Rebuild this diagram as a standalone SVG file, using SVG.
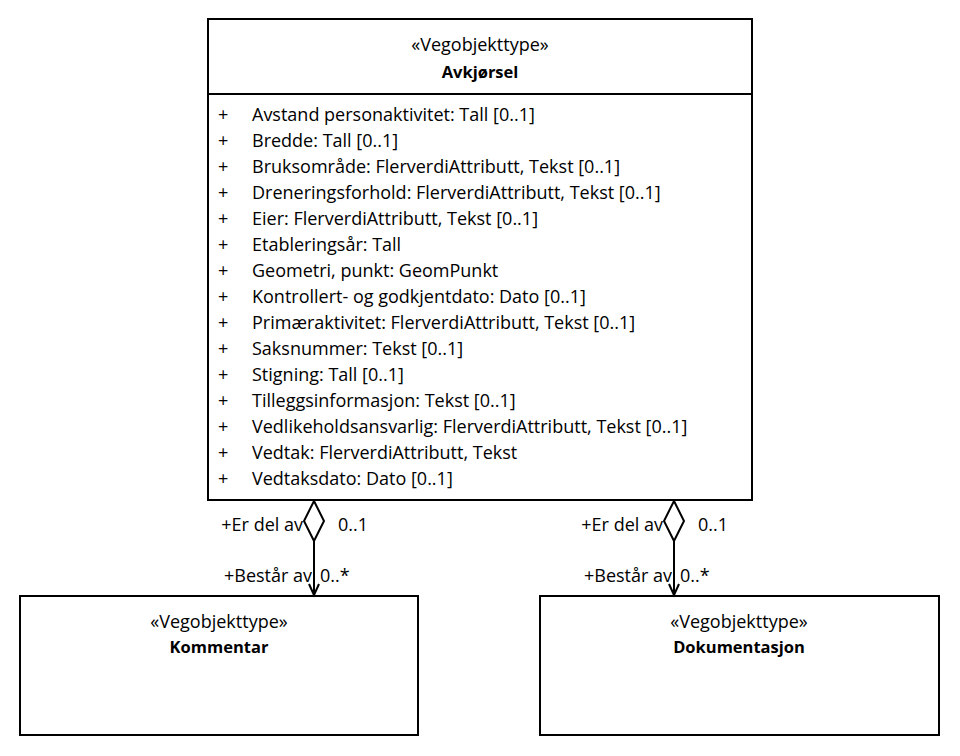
<svg xmlns="http://www.w3.org/2000/svg" width="960" height="756" viewBox="0 0 960 756">
<style>
text{font-family:"Open Sans","Liberation Sans",sans-serif;font-size:18px;fill:#000}
.b{font-weight:bold;font-size:16.5px}
.c{text-anchor:middle}
.box{fill:#fff;stroke:#000;stroke-width:2}
.ln{fill:none;stroke:#000;stroke-width:2}
</style>
<rect width="960" height="756" fill="#fff"/>
<g id="avkjorsel">
<rect class="box" x="208" y="19" width="544" height="481"/>
<line class="ln" x1="208" y1="94" x2="752" y2="94"/>
<text class="c" x="480" y="51">«Vegobjekttype»</text>
<text class="c b" x="480" y="78">Avkjørsel</text>
<g>
<text x="218" y="121">+</text><text x="252" y="121">Avstand personaktivitet: Tall [0..1]</text>
<text x="218" y="147">+</text><text x="252" y="147">Bredde: Tall [0..1]</text>
<text x="218" y="173">+</text><text x="252" y="173">Bruksområde: FlerverdiAttributt, Tekst [0..1]</text>
<text x="218" y="199">+</text><text x="252" y="199">Dreneringsforhold: FlerverdiAttributt, Tekst [0..1]</text>
<text x="218" y="225">+</text><text x="252" y="225">Eier: FlerverdiAttributt, Tekst [0..1]</text>
<text x="218" y="251">+</text><text x="252" y="251">Etableringsår: Tall</text>
<text x="218" y="277">+</text><text x="252" y="277">Geometri, punkt: GeomPunkt</text>
<text x="218" y="303">+</text><text x="252" y="303">Kontrollert- og godkjentdato: Dato [0..1]</text>
<text x="218" y="329">+</text><text x="252" y="329">Primæraktivitet: FlerverdiAttributt, Tekst [0..1]</text>
<text x="218" y="355">+</text><text x="252" y="355">Saksnummer: Tekst [0..1]</text>
<text x="218" y="381">+</text><text x="252" y="381">Stigning: Tall [0..1]</text>
<text x="218" y="407">+</text><text x="252" y="407">Tilleggsinformasjon: Tekst [0..1]</text>
<text x="218" y="433">+</text><text x="252" y="433">Vedlikeholdsansvarlig: FlerverdiAttributt, Tekst [0..1]</text>
<text x="218" y="459">+</text><text x="252" y="459">Vedtak: FlerverdiAttributt, Tekst</text>
<text x="218" y="485">+</text><text x="252" y="485">Vedtaksdato: Dato [0..1]</text>
</g>
</g>
<g id="kommentar">
<rect class="box" x="20" y="596" width="398" height="139"/>
<text class="c" x="219" y="628">«Vegobjekttype»</text>
<text class="c b" x="219" y="653">Kommentar</text>
</g>
<g id="dokumentasjon">
<rect class="box" x="540" y="596" width="399" height="139"/>
<text class="c" x="739" y="628">«Vegobjekttype»</text>
<text class="c b" x="739" y="653">Dokumentasjon</text>
</g>
<g id="connectors">
<polygon class="ln" points="314,501 324,521 314,541 304,521"/>
<line class="ln" x1="314" y1="541" x2="314" y2="595"/>
<polyline class="ln" points="309,584 314,595 319,584"/>
<text x="303" y="531" text-anchor="end">+Er del av</text>
<text x="338" y="531">0..1</text>
<text x="224" y="582">+Består av</text>
<text x="320" y="582">0..*</text>
<polygon class="ln" points="674,501 684,521 674,541 664,521"/>
<line class="ln" x1="674" y1="541" x2="674" y2="595"/>
<polyline class="ln" points="669,584 674,595 679,584"/>
<text x="663" y="531" text-anchor="end">+Er del av</text>
<text x="698" y="531">0..1</text>
<text x="584" y="582">+Består av</text>
<text x="680" y="582">0..*</text>
</g>
</svg>
